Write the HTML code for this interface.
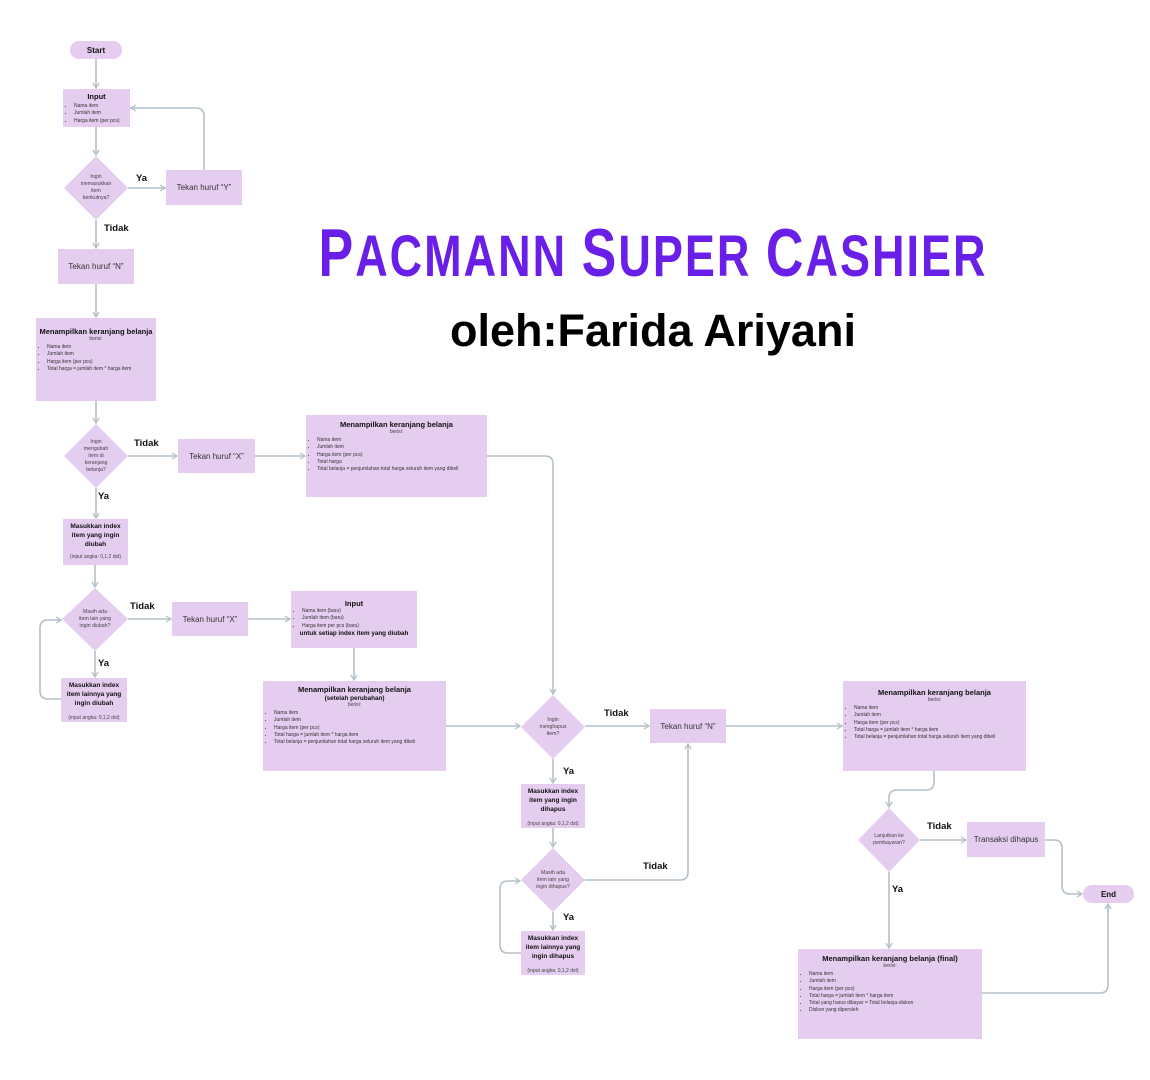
<!DOCTYPE html>
<html><head><meta charset="utf-8"><style>
body{margin:0;background:#fff;}
#c{position:relative;width:1150px;height:1080px;overflow:hidden;font-family:"Liberation Sans",sans-serif;color:#222;}
.b{position:absolute;background:#e5cdf0;box-sizing:border-box;}
.t{display:flex;align-items:center;justify-content:center;font-size:8px;color:#333;text-align:center;}
.h{font-weight:bold;font-size:7.5px;text-align:center;color:#111;margin-top:6px;}
.s{font-size:5px;text-align:center;color:#444;}
ul{margin:2px 0 0 0;padding-left:11px;font-size:5px;line-height:7.3px;color:#333;}
.pill{position:absolute;background:#e5cdf0;border-radius:10px;font-weight:bold;font-size:8px;display:flex;align-items:center;justify-content:center;color:#111;}
.lbl{position:absolute;font-weight:bold;font-size:9.5px;color:#111;}
.dt{position:absolute;font-size:5.2px;text-align:center;color:#444;line-height:7px;display:flex;align-items:center;justify-content:center;}
.mi{font-weight:bold;font-size:6.5px;line-height:9px;text-align:center;color:#111;padding-top:3px;}
.mi span{display:block;font-weight:normal;font-size:5px;margin-top:8px;color:#444;}
.big{font-size:52px;}
</style></head><body><div id="c">
<svg width="1150" height="1080" style="position:absolute;left:0;top:0">
<defs><marker id="a" markerWidth="8" markerHeight="8" refX="6" refY="4" orient="auto" markerUnits="userSpaceOnUse"><path d="M1,1 L6,4 L1,7" fill="none" stroke="#b4c0c8" stroke-width="1.3"/></marker></defs>
<g fill="#e5cdf0">
<polygon points="96,156 128,188 96,220 64,188"/>
<polygon points="96,424 128,456 96,488 64,456"/>
<polygon points="95,588 128,619 95,651 62,619"/>
<polygon points="553,695 585,727 553,759 521,727"/>
<polygon points="553,848 585,880 553,912 521,880"/>
<polygon points="889,808 920,840 889,872 858,840"/>
</g>
<g fill="none" stroke="#b4c0c8" stroke-width="1.6" marker-end="url(#a)">
<path d="M96,59V88"/><path d="M96,127V155"/><path d="M128,188H165"/>
<path d="M204,170V116Q204,108 196,108H131"/>
<path d="M96,220V248"/><path d="M96,284V317"/><path d="M96,401V423"/>
<path d="M128,456H177"/><path d="M255,456H305"/>
<path d="M487,456H545Q553,456 553,464V694"/>
<path d="M96,488V518"/><path d="M95,565V587"/>
<path d="M128,619H171"/><path d="M248,619H290"/><path d="M354,648V680"/>
<path d="M95,651V677"/>
<path d="M61,699H48Q40,699 40,691V628Q40,620 48,620H61"/>
<path d="M446,726H520"/><path d="M585,726H649"/><path d="M726,726H842"/>
<path d="M553,759V783"/><path d="M553,828V847"/><path d="M553,912V930"/>
<path d="M521,953H508Q500,953 500,945V889Q500,881 508,881H520"/>
<path d="M585,880H680Q688,880 688,872V744"/>
<path d="M934,771V782Q934,790 926,790H897Q889,790 889,798V807"/>
<path d="M920,840H966"/>
<path d="M1045,840H1054Q1062,840 1062,848V886Q1062,894 1070,894H1082"/>
<path d="M889,872V948"/>
<path d="M982,993H1100Q1108,993 1108,985V904"/>
</g></svg>

<div class="pill" style="left:70px;top:41px;width:52px;height:18px">Start</div>
<div class="pill" style="left:1083px;top:885px;width:51px;height:18px">End</div>

<div class="b" style="left:63px;top:89px;width:67px;height:38px"><div class="h" style="margin-top:3px">Input</div><ul><li>Nama item</li><li>Jumlah item</li><li>Harga item (per pcs)</li></ul></div>
<div class="dt" style="left:72px;top:168px;width:48px;height:40px">Ingin<br>memasukkan<br>item<br>berikutnya?</div>
<div class="b t" style="left:166px;top:170px;width:76px;height:35px">Tekan huruf “Y”</div>
<div class="b t" style="left:58px;top:249px;width:76px;height:35px">Tekan huruf “N”</div>
<div class="b" style="left:36px;top:318px;width:120px;height:83px"><div class="h" style="margin-top:9px">Menampilkan keranjang belanja</div><div class="s">berisi:</div><ul><li>Nama item</li><li>Jumlah item</li><li>Harga item (per pcs)</li><li>Total harga = jumlah item * harga item</li></ul></div>
<div class="dt" style="left:72px;top:436px;width:48px;height:40px">Ingin<br>mengubah<br>item di<br>keranjang<br>belanja?</div>
<div class="b t" style="left:178px;top:439px;width:77px;height:34px">Tekan huruf “X”</div>
<div class="b" style="left:306px;top:415px;width:181px;height:82px"><div class="h" style="margin-top:5px">Menampilkan keranjang belanja</div><div class="s">berisi:</div><ul><li>Nama item</li><li>Jumlah item</li><li>Harga item (per pcs)</li><li>Total harga</li><li>Total belanja = penjumlahan total harga seluruh item yang dibeli</li></ul></div>
<div class="b mi" style="left:63px;top:519px;width:65px;height:46px">Masukkan index<br>item yang ingin<br>diubah<span style="margin-top:4px">(input angka: 0,1,2 dst)</span></div>
<div class="dt" style="left:70px;top:604px;width:50px;height:30px">Masih ada<br>item lain yang<br>ingin diubah?</div>
<div class="b t" style="left:172px;top:602px;width:76px;height:34px">Tekan huruf “X”</div>
<div class="b" style="left:291px;top:591px;width:126px;height:57px"><div class="h" style="margin-top:8px">Input</div><ul style="margin-top:0"><li>Nama item (baru)</li><li>Jumlah item (baru)</li><li>Harga item per pcs (baru)</li></ul><div class="h" style="margin-top:0;font-size:6.3px">untuk setiap index item yang diubah</div></div>
<div class="b mi" style="left:61px;top:678px;width:66px;height:44px">Masukkan index<br>item lainnya yang<br>ingin diubah<span style="margin-top:6px">(input angka: 0,1,2 dst)</span></div>
<div class="b" style="left:263px;top:681px;width:183px;height:90px"><div class="h" style="margin-top:4px">Menampilkan keranjang belanja</div><div class="h" style="margin-top:1px;font-size:6.3px">(setelah perubahan)</div><div class="s">berisi:</div><ul><li>Nama item</li><li>Jumlah item</li><li>Harga item (per pcs)</li><li>Total harga = jumlah item * harga item</li><li>Total belanja = penjumlahan total harga seluruh item yang dibeli</li></ul></div>
<div class="dt" style="left:529px;top:712px;width:48px;height:30px">Ingin<br>menghapus<br>item?</div>
<div class="b t" style="left:650px;top:709px;width:76px;height:34px">Tekan huruf “N”</div>
<div class="b" style="left:843px;top:681px;width:183px;height:90px"><div class="h" style="margin-top:7px">Menampilkan keranjang belanja</div><div class="s">berisi:</div><ul><li>Nama item</li><li>Jumlah item</li><li>Harga item (per pcs)</li><li>Total harga = jumlah item * harga item</li><li>Total belanja = penjumlahan total harga seluruh item yang dibeli</li></ul></div>
<div class="b mi" style="left:521px;top:784px;width:64px;height:44px">Masukkan index<br>item yang ingin<br>dihapus<span style="margin-top:6px">(input angka: 0,1,2 dst)</span></div>
<div class="dt" style="left:527px;top:865px;width:52px;height:30px">Masih ada<br>item lain yang<br>ingin dihapus?</div>
<div class="b mi" style="left:521px;top:931px;width:64px;height:44px">Masukkan index<br>item lainnya yang<br>ingin dihapus<span style="margin-top:6px">(input angka: 0,1,2 dst)</span></div>
<div class="dt" style="left:862px;top:830px;width:54px;height:20px">Lanjutkan ke<br>pembayaran?</div>
<div class="b t" style="left:967px;top:822px;width:78px;height:35px">Transaksi dihapus</div>
<div class="b" style="left:798px;top:949px;width:184px;height:90px"><div class="h" style="margin-top:5px">Menampilkan keranjang belanja (final)</div><div class="s">berisi:</div><ul><li>Nama item</li><li>Jumlah item</li><li>Harga item (per pcs)</li><li>Total harga = jumlah item * harga item</li><li>Total yang harus dibayar = Total belanja-diskon</li><li>Diskon yang diperoleh</li></ul></div>

<div class="lbl" style="left:136px;top:173px">Ya</div>
<div class="lbl" style="left:104px;top:223px">Tidak</div>
<div class="lbl" style="left:134px;top:438px">Tidak</div>
<div class="lbl" style="left:98px;top:491px">Ya</div>
<div class="lbl" style="left:130px;top:601px">Tidak</div>
<div class="lbl" style="left:98px;top:658px">Ya</div>
<div class="lbl" style="left:604px;top:708px">Tidak</div>
<div class="lbl" style="left:563px;top:766px">Ya</div>
<div class="lbl" style="left:563px;top:912px">Ya</div>
<div class="lbl" style="left:643px;top:861px">Tidak</div>
<div class="lbl" style="left:927px;top:821px">Tidak</div>
<div class="lbl" style="left:892px;top:884px">Ya</div>

<div style="position:absolute;left:250px;top:226px;width:806px;text-align:center;white-space:nowrap;font-weight:bold;font-size:45px;letter-spacing:2px;color:#6a1fe8;line-height:56px;transform:scaleY(1.3)"><span class="big">P</span>ACMANN <span class="big">S</span>UPER <span class="big">C</span>ASHIER</div>
<div style="position:absolute;left:350px;top:304px;width:606px;text-align:center;white-space:nowrap;font-weight:bold;font-size:45px;color:#000;line-height:54px">oleh:Farida Ariyani</div>
</div></body></html>
